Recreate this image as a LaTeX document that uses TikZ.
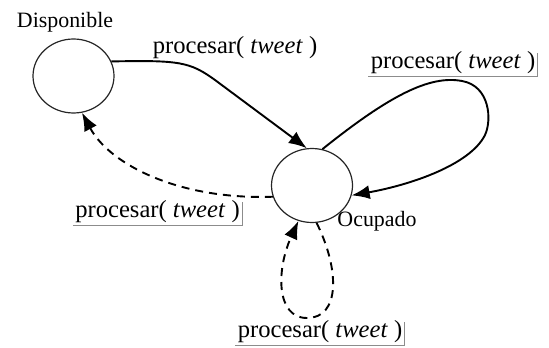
\documentclass[tikz,border=0pt]{standalone}
\usepackage{fontspec}
\setmainfont{Liberation Serif}
\usetikzlibrary{shapes.geometric,arrows.meta}
\begin{document}
\begin{tikzpicture}[x=0.5pt,y=-0.5pt,
  state/.style={ellipse,draw=black!85,line width=0.6pt,minimum width=40.5pt,minimum height=37pt,inner sep=0pt},
  slabel/.style={font=\fontsize{10.95}{12}\selectfont,inner sep=0pt},
  tlabel/.style={font=\fontsize{12.3}{14}\selectfont,inner xsep=1pt,inner ysep=1pt},
  ulmark/.style={draw=black!45,line width=0.45pt},
  arr/.style={line width=0.95pt,-{Latex[length=9pt,width=7pt]}},
  darr/.style={arr,dash pattern=on 4pt off 3pt}]
\useasboundingbox (0,0) rectangle (549,347);
\node[state] (d) at (73.5,76) {};
\node[state] (o) at (312,185.5) {};
\node[slabel] (dl) at (65,22) {Disponible};
\node[slabel] (ol) at (377,221) {Ocupado};
\node[tlabel] (t1) at (235,48) {procesar( \textit{tweet} )};
\node[tlabel] (t2) at (453,63) {procesar( \textit{tweet} )};
\node[tlabel] (t3) at (157.5,212) {procesar( \textit{tweet} )};
\node[tlabel] (t4) at (320,332) {procesar( \textit{tweet} )};
\foreach \n in {t2,t3,t4}{\draw[ulmark] (\n.south west) -| ([yshift=-2pt]\n.north east);}
% Disponible -> Ocupado
\draw[arr] (d.21) .. controls (180,60) and (190,62) .. (215,80) -- (o.98);
% self loop top
\draw[arr] (o.74) .. controls (390,95) and (430,75) .. (462,81)
  .. controls (490,86) and (492,120) .. (485,135)
  .. controls (470,165) and (410,185) .. (o.-14);
% Ocupado -> Disponible dashed
\draw[darr] (o.196) .. controls (180,200) and (110,165) .. (d.283);
% self loop bottom dashed
\draw[darr] (o.277) .. controls (340,270) and (340,318) .. (307,318)
  .. controls (276,318) and (276,270) .. (o.249);
\end{tikzpicture}
\end{document}
